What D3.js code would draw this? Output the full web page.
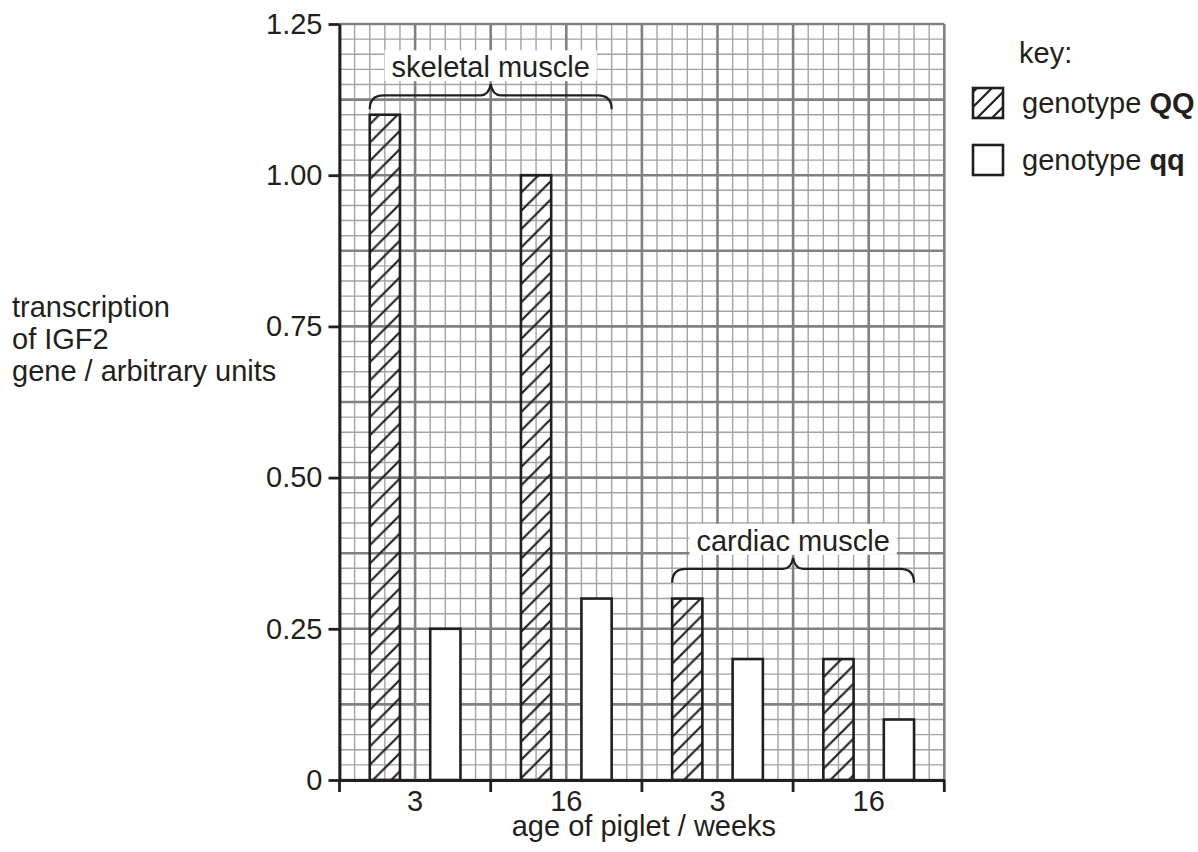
<!DOCTYPE html>
<html>
<head>
<meta charset="utf-8">
<title>IGF2 transcription</title>
<script src="https://cdn.jsdelivr.net/npm/d3@7"></script>
<style>
  body { margin: 0; background: #fff; }
  text { font-family: "Liberation Sans", Arial, sans-serif; fill: #231f20; }
  .minor { stroke: #a3a3a3; stroke-width: 1.4; }
  .major { stroke: #808080; stroke-width: 2.6; }
</style>
</head>
<body>
<div id="chart"></div>
<script>
// data
var groups = ["s3", "s16", "c3", "c16"];
var groupLabels = ["3", "16", "3", "16"];
var genotypes = ["QQ", "qq"];
var valuesQQ = [1.10, 1.00, 0.30, 0.20];
var valuesqq = [0.25, 0.30, 0.20, 0.10];
var yTicks = [0, 0.25, 0.50, 0.75, 1.00, 1.25];
var yTickLabels = ["0", "0.25", "0.50", "0.75", "1.00", "1.25"];
var tissues = ["skeletal muscle", "cardiac muscle"];
var tissueGroups = [["s3", "s16"], ["c3", "c16"]];
var braceLevels = [1.109, 0.326]; // where the brace ends sit

var width = 1198, height = 852;
var pLeft = 339.5, pRight = 944.3, pTop = 24, pBottom = 780;
var fs = 29;

var svg = d3.select("#chart").append("svg")
  .attr("width", width).attr("height", height);

var defs = svg.append("defs");
function hatch(id, s) {
  defs.append("pattern")
    .attr("id", id)
    .attr("patternUnits", "userSpaceOnUse")
    .attr("width", s).attr("height", s)
    .append("path")
    .attr("d", "M0," + s + " L" + s + ",0 M-4,4 L4,-4 M" + (s - 4) + "," + (s + 4) + " L" + (s + 4) + "," + (s - 4))
    .attr("stroke", "#231f20")
    .attr("stroke-width", 2.2);
}
hatch("hatch", 18.3);
hatch("hatchKey", 15);

var y = d3.scaleLinear().domain([0, 1.25]).range([pBottom, pTop]);
var x = d3.scaleBand().domain(groups).range([pLeft, pRight]);
var xs = d3.scaleBand().domain(genotypes).range([0, x.bandwidth()])
  .paddingInner(0.5).paddingOuter(0.5);
// grid uses the same spacing both ways (square cells)
var gx = d3.scaleLinear().domain([0, 40]).range([pLeft, pRight]);
var gy = d3.scaleLinear().domain([0, 50]).range([pBottom, pTop]);

// graph paper
var grid = svg.append("g");
d3.range(0, 41).forEach(function(i) {
  grid.append("line")
    .attr("class", i % 5 === 0 ? "major" : "minor")
    .attr("x1", gx(i)).attr("x2", gx(i))
    .attr("y1", pTop).attr("y2", pBottom);
});
d3.range(0, 51).forEach(function(i) {
  grid.append("line")
    .attr("class", i % 5 === 0 ? "major" : "minor")
    .attr("x1", pLeft).attr("x2", pRight)
    .attr("y1", gy(i)).attr("y2", gy(i));
});
// majors on top of minors
grid.selectAll("line.major").raise();

// bars
var bars = [];
groups.forEach(function(g, i) {
  bars.push({group: g, geno: "QQ", value: valuesQQ[i]});
  bars.push({group: g, geno: "qq", value: valuesqq[i]});
});
svg.append("g").selectAll("rect")
  .data(bars)
  .enter().append("rect")
  .attr("x", function(d) { return x(d.group) + xs(d.geno); })
  .attr("y", function(d) { return y(d.value); })
  .attr("width", xs.bandwidth())
  .attr("height", function(d) { return y(0) - y(d.value); })
  .attr("fill", function(d) { return d.geno == "QQ" ? "url(#hatch)" : "#fff"; })
  .attr("stroke", "#231f20")
  .attr("stroke-width", 2.6);

// braces + labels
function bracePath(x0, x1, yEnd) {
  var xm = (x0 + x1) / 2;
  var yH = yEnd - 14, yT = yEnd - 25, r = 14;
  return "M" + x0 + "," + yEnd +
    " Q" + x0 + "," + yH + " " + (x0 + r) + "," + yH +
    " L" + (xm - 10) + "," + yH +
    " Q" + (xm - 2) + "," + yH + " " + xm + "," + yT +
    " Q" + (xm + 2) + "," + yH + " " + (xm + 10) + "," + yH +
    " L" + (x1 - r) + "," + yH +
    " Q" + x1 + "," + yH + " " + x1 + "," + yEnd;
}
tissues.forEach(function(t, i) {
  var g0 = tissueGroups[i][0], g1 = tissueGroups[i][1];
  var x0 = x(g0) + xs("QQ");
  var x1 = x(g1) + xs("qq") + xs.bandwidth();
  var yEnd = y(braceLevels[i]);
  svg.append("path")
    .attr("d", bracePath(x0, x1, yEnd))
    .attr("fill", "none")
    .attr("stroke", "#231f20")
    .attr("stroke-width", 2.2);
  var lab = svg.append("text")
    .attr("x", (x0 + x1) / 2)
    .attr("y", yEnd - 32)
    .attr("text-anchor", "middle")
    .attr("font-size", fs)
    .text(t);
  var bb = lab.node().getBBox();
  svg.insert("rect", function() { return lab.node(); })
    .attr("x", bb.x - 7).attr("y", bb.y - 1)
    .attr("width", bb.width + 14).attr("height", bb.height - 1)
    .attr("fill", "#fff");
});

// axes
var yAxis = svg.append("g")
  .attr("transform", "translate(" + pLeft + ",0)")
  .call(d3.axisLeft(y).tickValues(yTicks)
    .tickFormat(function(d, i) { return yTickLabels[i]; })
    .tickSize(11).tickPadding(6).tickSizeOuter(0));
yAxis.select(".domain").attr("stroke", "#231f20").attr("stroke-width", 2.8);
yAxis.selectAll(".tick line").attr("stroke", "#231f20").attr("stroke-width", 2.8);
yAxis.selectAll(".tick text").attr("font-size", fs).attr("font-family", null)
  .attr("fill", "#231f20");

var xAxis = svg.append("g")
  .attr("transform", "translate(0," + pBottom + ")")
  .call(d3.axisBottom(x).tickValues([]).tickSizeOuter(0));
xAxis.select(".domain").attr("stroke", "#231f20").attr("stroke-width", 2.8);
// ticks at the group boundaries
var bounds = groups.map(function(g) { return x(g); }).concat([pRight]);
xAxis.selectAll(".bound").data(bounds).enter().append("line")
  .attr("x1", function(d) { return d; }).attr("x2", function(d) { return d; })
  .attr("y1", 0).attr("y2", 12)
  .attr("stroke", "#231f20").attr("stroke-width", 2.8);
xAxis.selectAll(".lab").data(groups).enter().append("text")
  .attr("x", function(d) { return x(d) + x.bandwidth() / 2; })
  .attr("y", 31)
  .attr("text-anchor", "middle")
  .attr("font-size", fs)
  .attr("font-family", null)
  .text(function(d, i) { return groupLabels[i]; });

svg.append("text")
  .attr("x", (pLeft + pRight) / 2 + 2).attr("y", 836)
  .attr("text-anchor", "middle")
  .attr("font-size", fs)
  .text("age of piglet / weeks");

var yTitle = svg.append("text").attr("font-size", fs);
["transcription", "of IGF2", "gene / arbitrary units"].forEach(function(s, i) {
  yTitle.append("tspan").attr("x", 12).attr("y", 317 + i * 32).text(s);
});

// key
var key = svg.append("g");
key.append("text").attr("x", 1019).attr("y", 63).attr("font-size", fs).text("key:");
genotypes.forEach(function(gname, i) {
  var yy = 88 + i * 57;
  key.append("rect")
    .attr("x", 973).attr("y", yy).attr("width", 30).attr("height", 30)
    .attr("fill", gname == "QQ" ? "url(#hatchKey)" : "#fff")
    .attr("stroke", "#231f20").attr("stroke-width", 2.6);
  var t = key.append("text").attr("x", 1022).attr("y", yy + 25).attr("font-size", fs);
  t.append("tspan").text("genotype ");
  t.append("tspan").attr("font-weight", "bold").text(gname);
});
</script>
</body>
</html>
